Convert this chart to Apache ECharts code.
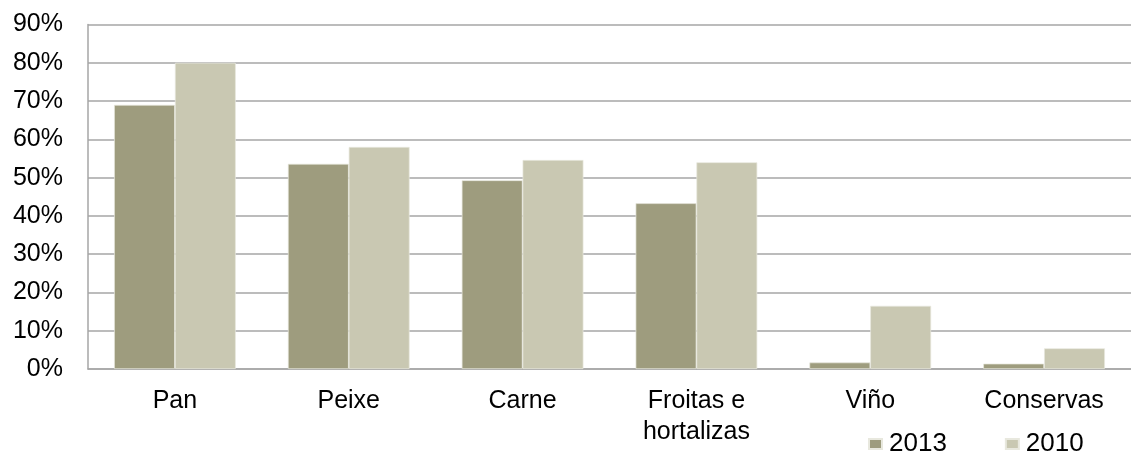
<!DOCTYPE html>
<html>
<head>
<meta charset="utf-8">
<script src="https://cdn.jsdelivr.net/npm/echarts@6/dist/echarts.min.js"></script>
<style>html,body{margin:0;padding:0;background:#fff}#c{width:1131px;height:452px}</style>
</head>
<body>
<div id="c"></div>
<script>
const categories = ['Pan', 'Peixe', 'Carne', 'Froitas e\nhortalizas', 'Viño', 'Conservas'];
const seriesNames = ['2013', '2010'];
const values2013 = [69, 53.6, 49.3, 43.3, 1.7, 1.4];
const values2010 = [80, 58, 54.6, 54, 16.5, 5.4];
const yTicks = [0, 10, 20, 30, 40, 50, 60, 70, 80, 90];

const chart = echarts.init(document.getElementById('c'));
const font = 'Liberation Sans, Arial, sans-serif';
chart.setOption({
  animation: false,
  grid: { left: 88, right: 0, top: 24.5, bottom: 83, containLabel: false },
  legend: {
    data: seriesNames,
    left: 868, top: 431, padding: 0,
    itemWidth: 13, itemHeight: 10, itemGap: 58,
    icon: 'rect',
    textStyle: { fontFamily: font, fontSize: 26, lineHeight: 26, color: '#000', padding: [0,0,0,2] }
  },
  xAxis: {
    type: 'category',
    data: categories,
    axisLine: { lineStyle: { color: '#A6A6A6', width: 1.5 } },
    axisTick: { show: false },
    axisLabel: { fontFamily: font, fontSize: 25, color: '#000', lineHeight: 31, margin: 17 }
  },
  yAxis: {
    type: 'value',
    min: yTicks[0], max: yTicks[yTicks.length - 1], interval: 10,
    axisLine: { show: true, lineStyle: { color: '#A6A6A6', width: 1.5 } },
    axisTick: { show: false },
    splitLine: { lineStyle: { color: '#A6A6A6', width: 1.5 } },
    axisLabel: { fontFamily: font, fontSize: 25, color: '#000', margin: 25, formatter: v => v + '%' }
  },
  series: [
    { name: seriesNames[0], type: 'bar', data: values2013, barGap: '0%', barCategoryGap: '30%',
      itemStyle: { color: '#9E9C7E', borderColor: '#E8E8DE', borderWidth: 0.7 } },
    { name: seriesNames[1], type: 'bar', data: values2010, barGap: '0%', barCategoryGap: '30%',
      itemStyle: { color: '#C9C8B2', borderColor: '#E8E8DE', borderWidth: 0.7 } }
  ]
});
</script>
</body>
</html>
